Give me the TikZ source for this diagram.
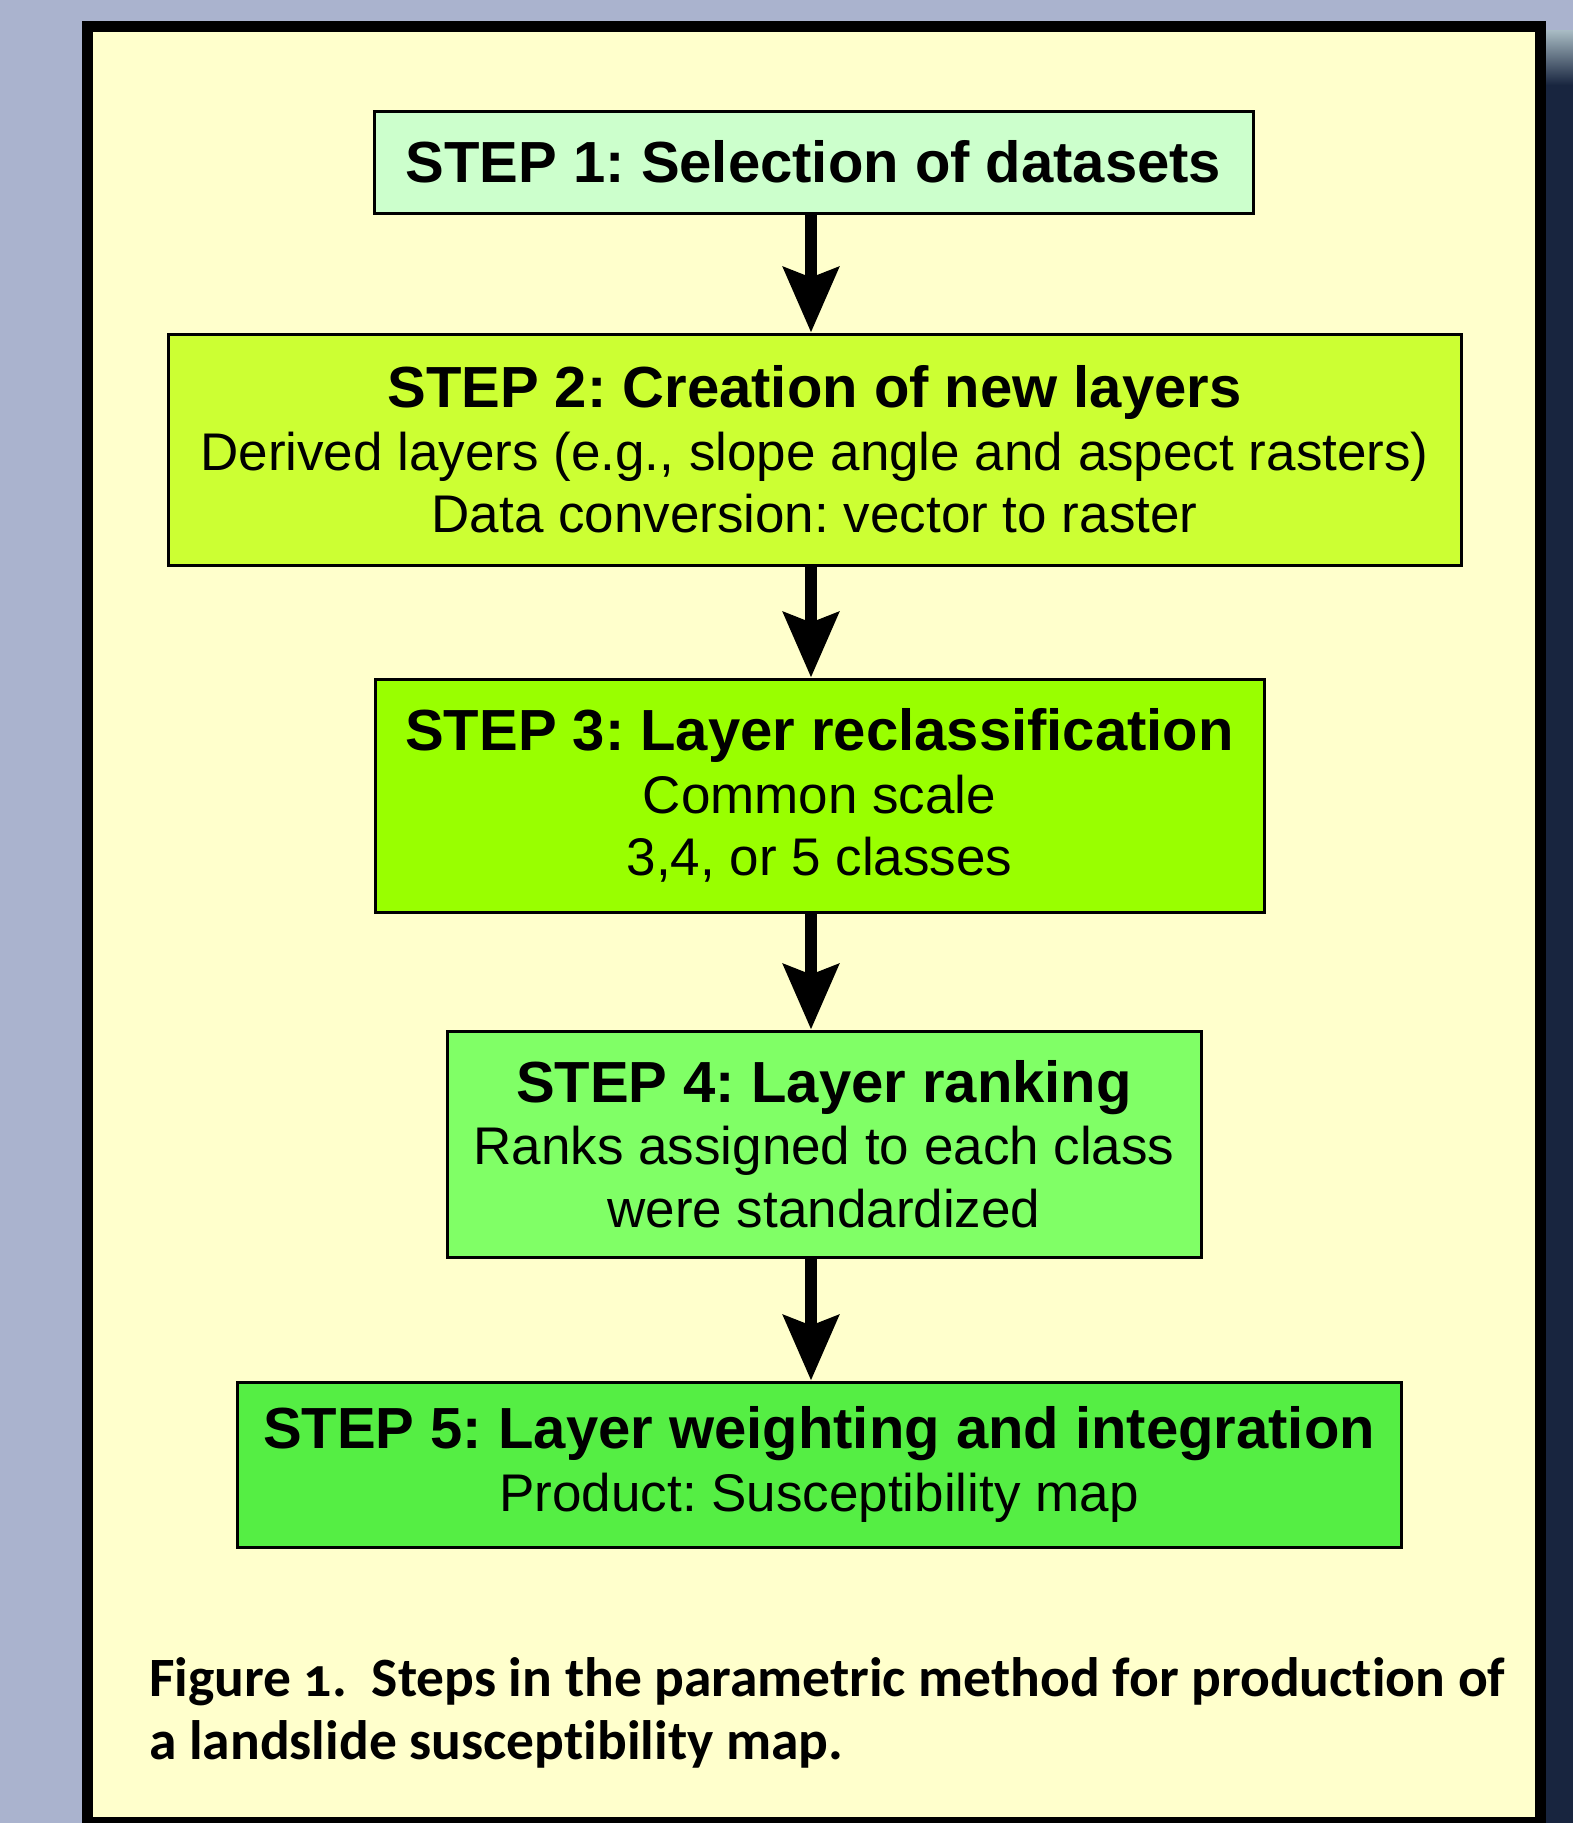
\documentclass[tikz,border=0pt]{standalone}
\usepackage{fontspec}
\setmainfont{Liberation Sans}
\newfontfamily\capfont{Carlito}[Numbers=OldStyle, Ligatures=NoCommon]
\usetikzlibrary{positioning,calc,arrows.meta}
\frenchspacing

\definecolor{paper}{HTML}{FFFFCC}
\definecolor{sky}{HTML}{AAB3CE}
\definecolor{haze}{HTML}{A9BCC4}
\definecolor{navy}{HTML}{18253F}
\definecolor{stepone}{HTML}{CCFFCC}
\definecolor{steptwo}{HTML}{CCFF33}
\definecolor{stepthree}{HTML}{99FF00}
\definecolor{stepfour}{HTML}{80FF66}
\definecolor{stepfive}{HTML}{55EE44}

\tikzset{
  stepbox/.style={draw, line width=3pt, inner sep=0pt, align=center,
    font={\fontsize{53}{62.5}\selectfont}},
  flow/.style={line width=12pt, -{Stealth[length=65pt, width=55pt, inset=10pt]}},
}
\newcommand{\steptitle}[1]{{\fontsize{58}{62.5}\selectfont\bfseries #1}}

\begin{document}
\begin{tikzpicture}[x=1pt, y=-1pt]
    \useasboundingbox (0,0) rectangle (1573,1823);
    % backdrop and frame
    \fill[sky] (0,0) rectangle (1573,1823);
    \shade[top color=haze, bottom color=navy] (1545,30) rectangle (1573,85);
    \fill[navy] (1545,85) rectangle (1573,1823);
    \draw[line width=11pt, fill=paper] (87,26) rectangle (1540,1822);

    % the five steps
    \node[stepbox, fill=stepone, minimum width=879, minimum height=102] (s1) at (813.5,162)
        {\steptitle{STEP 1: Selection of datasets}};
    \node[stepbox, fill=steptwo, minimum width=1293, minimum height=231] (s2) at (814.5,449.5)
        {\steptitle{STEP 2: Creation of new layers}\\
         Derived layers (e.g., slope angle and aspect rasters)\\
         Data conversion: vector to raster};
    \node[stepbox, fill=stepthree, minimum width=889, minimum height=233] (s3) at (819.5,795.5)
        {\steptitle{STEP 3: Layer reclassification}\\
         Common scale\\
         3,4, or 5 classes};
    \node[stepbox, fill=stepfour, minimum width=754, minimum height=226] (s4) at (824,1144)
        {\steptitle{STEP 4: Layer ranking}\\
         Ranks assigned to each class\\
         were standardized};
    \node[stepbox, fill=stepfive, minimum width=1164, minimum height=165] (s5) at (819,1464.5)
        {\steptitle{STEP 5: Layer weighting and integration}\\
         Product: Susceptibility map};

    % arrows
    \coordinate (ax) at (811,0);
    \foreach \a/\b in {s1/s2, s2/s3, s3/s4, s4/s5}
        \draw[flow] (\a.south -| ax) -- (\b.north -| ax);

    % caption
    \node[anchor=north west, inner sep=0pt, align=left,
        font={\capfont\bfseries\fontsize{55.5}{63}\selectfont}] (cap) at (149,1657)
        {Figure 1.\ \ Steps in the parametric method for production of\\
         a landslide susceptibility map.};
\end{tikzpicture}
\end{document}
